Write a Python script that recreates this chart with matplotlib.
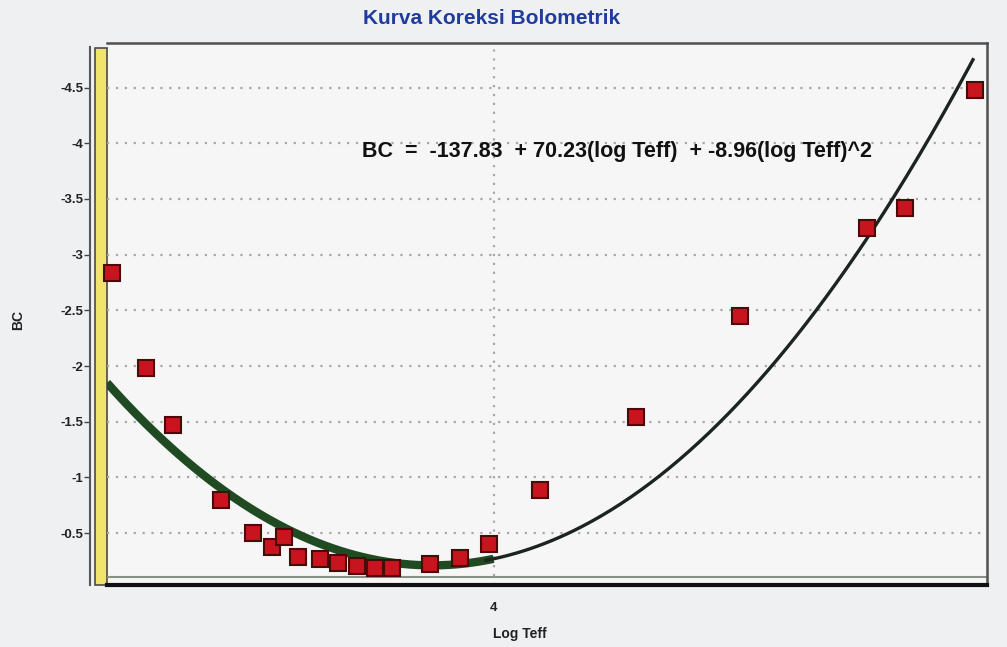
import numpy as np
import matplotlib
matplotlib.use("Agg")
import matplotlib.pyplot as plt
from matplotlib.patches import Rectangle

plt.rcParams['font.family'] = ['Liberation Sans', 'DejaVu Sans']

# data
log_teff = [3.498, 3.543, 3.578, 3.641, 3.684, 3.709, 3.724, 3.743, 3.772, 3.795, 3.820,
            3.844, 3.866, 3.916, 3.956, 3.994, 4.061, 4.187, 4.324, 4.491, 4.541, 4.633]
bc = [-2.84, -1.98, -1.47, -0.80, -0.50, -0.38, -0.47, -0.29, -0.27, -0.23, -0.21,
      -0.19, -0.19, -0.22, -0.28, -0.40, -0.89, -1.54, -2.45, -3.24, -3.42, -4.48]

# fit coefficients printed on the chart
c0, c1, c2 = -137.83, 70.23, -8.96
fit_start, fit_split, fit_end = 3.4914, 4.0, 4.6308

yticks = [-4.5, -4, -3.5, -3, -2.5, -2, -1.5, -1, -0.5]
ytick_labels = ["-4.5", "-4", "-3.5", "-3", "-2.5", "-2", "-1.5", "-1", "-0.5"]
xticks = [4]
xtick_labels = ["4"]

title = "Kurva Koreksi Bolometrik"
equation = "BC  =  -137.83  + 70.23(log Teff)  + -8.96(log Teff)^2"


def bc_fit(x):
    return c0 + c1 * x + c2 * x ** 2


fig = plt.figure(figsize=(10.07, 6.47), dpi=100, facecolor='#eef0f2')
ax = fig.add_axes([107/1007, 1-585/647, 880/1007, 542/647])
ax.set_facecolor('#f6f6f6')

ax.set_xlim(3.4914, 4.6493)
ax.set_ylim(-0.035, -4.90)

# gridlines
for y in yticks:
    ax.axhline(y, color='#a8a8a8', lw=1.6, ls=(0, (1, 3)), zorder=1)
for x in xticks:
    ax.axvline(x, color='#a8a8a8', lw=1.6, ls=(0, (1, 3)), zorder=1)

# fitted curve: thick green on the left part, thin dark on the right
xa = np.linspace(fit_start, fit_split, 200)
xb = np.linspace(fit_split - 0.01, fit_end, 200)
ax.plot(xa, bc_fit(xa), color='#1f4a22', lw=6, solid_capstyle='butt', zorder=3)
ax.plot(xb, bc_fit(xb), color='#1c2420', lw=2.4, zorder=3)

# data points
ax.plot(log_teff, bc, ls='none', marker='s', ms=12, mfc='#c8141e', mec='#4a0a0a',
        mew=1.5, zorder=4, clip_on=False)

# axes styling
for s in ['top', 'right']:
    ax.spines[s].set_color('#505050')
    ax.spines[s].set_linewidth(1.8)
ax.spines['bottom'].set_color('#111111')
ax.spines['bottom'].set_linewidth(3)
ax.spines['left'].set_position(('outward', 12))
ax.spines['left'].set_color('#555555')
ax.spines['left'].set_linewidth(1.5)
ax.spines['left'].set_bounds(-0.035, -4.86)

# yellow side wall and floor edge
ax.add_patch(Rectangle((-12/880, 0), 12/880, 537/542, transform=ax.transAxes,
                       facecolor='#f0e46a', edgecolor='#4a4a4a', lw=1.2,
                       clip_on=False, zorder=0))
ax.plot([0, 1], [8/542, 8/542], transform=ax.transAxes, color='#8a8f8a', lw=1.5,
        zorder=2)

ax.set_yticks(yticks)
ax.set_yticklabels(ytick_labels)
ax.set_xticks(xticks)
ax.set_xticklabels(xtick_labels)
ax.tick_params(axis='y', length=4, width=1, color='#444444', pad=1,
               labelsize=9.5, labelcolor='#222222')
ax.tick_params(axis='x', length=0, pad=12, labelsize=9.5, labelcolor='#222222')
for t in ax.get_yticklabels() + ax.get_xticklabels():
    t.set_fontweight('bold')

fig.text(492/1007, 1-18/647, title, ha='center', va='center', color='#1f3c9c',
         fontsize=15, fontweight='bold')
fig.text(362/1007, 1-152/647, equation, ha='left', va='center', color='#111111',
         fontsize=15.5, fontweight='bold')
fig.text(520/1007, 1-634/647, "Log Teff", ha='center', va='center', color='#222222',
         fontsize=10, fontweight='bold')
fig.text(18/1007, 1-320/647, "BC", ha='center', va='center', rotation=90,
         color='#222222', fontsize=10, fontweight='bold')

fig.savefig('out.png', dpi=100, facecolor=fig.get_facecolor())
